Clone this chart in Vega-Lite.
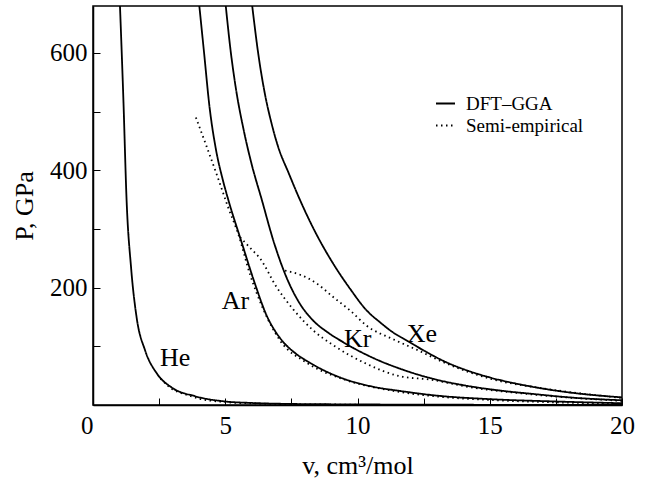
{
  "$schema": "https://vega.github.io/schema/vega-lite/v6.json",
  "width": 529,
  "height": 399,
  "autosize": "none",
  "padding": {"left": 93, "top": 6, "right": 27, "bottom": 74},
  "background": "white",
  "config": {
    "view": {"stroke": "black", "strokeWidth": 1.5},
    "font": "Liberation Serif",
    "axis": {
      "domainColor": "black", "domainWidth": 1.5, "tickColor": "black", "tickWidth": 1,
      "labelColor": "black", "titleColor": "black", "labelFont": "Liberation Serif",
      "titleFont": "Liberation Serif", "labelFontSize": 25, "titleFontSize": 26,
      "titleFontWeight": "normal", "grid": false, "tickSize": -7
    },
    "legend": {"labelFont": "Liberation Serif", "labelFontSize": 19, "labelColor": "black"}
  },
  "datasets": {
    "curves": [
      {"gas": "He", "method": "DFT–GGA", "v": 1.02, "P": 680},
      {"gas": "He", "method": "DFT–GGA", "v": 1.15, "P": 519},
      {"gas": "He", "method": "DFT–GGA", "v": 1.27, "P": 349},
      {"gas": "He", "method": "DFT–GGA", "v": 1.44, "P": 234},
      {"gas": "He", "method": "DFT–GGA", "v": 1.65, "P": 149},
      {"gas": "He", "method": "DFT–GGA", "v": 1.97, "P": 93},
      {"gas": "He", "method": "DFT–GGA", "v": 2.41, "P": 54},
      {"gas": "He", "method": "DFT–GGA", "v": 2.97, "P": 30},
      {"gas": "He", "method": "DFT–GGA", "v": 3.86, "P": 15},
      {"gas": "He", "method": "DFT–GGA", "v": 5.0, "P": 6},
      {"gas": "He", "method": "DFT–GGA", "v": 6.0, "P": 3.5},
      {"gas": "He", "method": "DFT–GGA", "v": 7.5, "P": 1.8},
      {"gas": "He", "method": "DFT–GGA", "v": 10, "P": 1.0},
      {"gas": "He", "method": "DFT–GGA", "v": 13, "P": 0.5},
      {"gas": "He", "method": "DFT–GGA", "v": 16, "P": 0.3},
      {"gas": "He", "method": "DFT–GGA", "v": 20, "P": 0.1},

      {"gas": "Ar", "method": "DFT–GGA", "v": 4.02, "P": 680},
      {"gas": "Ar", "method": "DFT–GGA", "v": 4.2, "P": 600},
      {"gas": "Ar", "method": "DFT–GGA", "v": 4.4, "P": 510},
      {"gas": "Ar", "method": "DFT–GGA", "v": 4.65, "P": 435},
      {"gas": "Ar", "method": "DFT–GGA", "v": 4.9, "P": 385},
      {"gas": "Ar", "method": "DFT–GGA", "v": 5.12, "P": 349},
      {"gas": "Ar", "method": "DFT–GGA", "v": 5.6, "P": 280},
      {"gas": "Ar", "method": "DFT–GGA", "v": 6.12, "P": 207},
      {"gas": "Ar", "method": "DFT–GGA", "v": 6.57, "P": 152},
      {"gas": "Ar", "method": "DFT–GGA", "v": 6.9, "P": 125},
      {"gas": "Ar", "method": "DFT–GGA", "v": 7.2, "P": 107},
      {"gas": "Ar", "method": "DFT–GGA", "v": 7.6, "P": 90},
      {"gas": "Ar", "method": "DFT–GGA", "v": 8.2, "P": 72},
      {"gas": "Ar", "method": "DFT–GGA", "v": 9.34, "P": 47},
      {"gas": "Ar", "method": "DFT–GGA", "v": 10.6, "P": 31},
      {"gas": "Ar", "method": "DFT–GGA", "v": 11.6, "P": 24},
      {"gas": "Ar", "method": "DFT–GGA", "v": 13, "P": 16},
      {"gas": "Ar", "method": "DFT–GGA", "v": 15, "P": 10},
      {"gas": "Ar", "method": "DFT–GGA", "v": 17.5, "P": 6},
      {"gas": "Ar", "method": "DFT–GGA", "v": 20, "P": 3},

      {"gas": "Kr", "method": "DFT–GGA", "v": 5.02, "P": 680},
      {"gas": "Kr", "method": "DFT–GGA", "v": 5.2, "P": 605},
      {"gas": "Kr", "method": "DFT–GGA", "v": 5.4, "P": 540},
      {"gas": "Kr", "method": "DFT–GGA", "v": 5.7, "P": 468},
      {"gas": "Kr", "method": "DFT–GGA", "v": 6.0, "P": 410},
      {"gas": "Kr", "method": "DFT–GGA", "v": 6.38, "P": 350},
      {"gas": "Kr", "method": "DFT–GGA", "v": 6.82, "P": 280},
      {"gas": "Kr", "method": "DFT–GGA", "v": 7.32, "P": 217},
      {"gas": "Kr", "method": "DFT–GGA", "v": 7.83, "P": 172},
      {"gas": "Kr", "method": "DFT–GGA", "v": 8.3, "P": 145},
      {"gas": "Kr", "method": "DFT–GGA", "v": 8.9, "P": 123},
      {"gas": "Kr", "method": "DFT–GGA", "v": 9.46, "P": 107},
      {"gas": "Kr", "method": "DFT–GGA", "v": 10.6, "P": 80},
      {"gas": "Kr", "method": "DFT–GGA", "v": 11.6, "P": 62},
      {"gas": "Kr", "method": "DFT–GGA", "v": 13, "P": 43},
      {"gas": "Kr", "method": "DFT–GGA", "v": 14.1, "P": 33},
      {"gas": "Kr", "method": "DFT–GGA", "v": 15.5, "P": 24},
      {"gas": "Kr", "method": "DFT–GGA", "v": 16.6, "P": 19},
      {"gas": "Kr", "method": "DFT–GGA", "v": 18, "P": 13},
      {"gas": "Kr", "method": "DFT–GGA", "v": 20, "P": 8},

      {"gas": "Xe", "method": "DFT–GGA", "v": 6.02, "P": 680},
      {"gas": "Xe", "method": "DFT–GGA", "v": 6.25, "P": 598},
      {"gas": "Xe", "method": "DFT–GGA", "v": 6.5, "P": 530},
      {"gas": "Xe", "method": "DFT–GGA", "v": 6.75, "P": 480},
      {"gas": "Xe", "method": "DFT–GGA", "v": 7.0, "P": 440},
      {"gas": "Xe", "method": "DFT–GGA", "v": 7.4, "P": 395},
      {"gas": "Xe", "method": "DFT–GGA", "v": 7.83, "P": 349},
      {"gas": "Xe", "method": "DFT–GGA", "v": 8.4, "P": 295},
      {"gas": "Xe", "method": "DFT–GGA", "v": 9.08, "P": 241},
      {"gas": "Xe", "method": "DFT–GGA", "v": 9.72, "P": 198},
      {"gas": "Xe", "method": "DFT–GGA", "v": 10.35, "P": 161},
      {"gas": "Xe", "method": "DFT–GGA", "v": 10.85, "P": 141},
      {"gas": "Xe", "method": "DFT–GGA", "v": 11.4, "P": 122},
      {"gas": "Xe", "method": "DFT–GGA", "v": 11.86, "P": 110},
      {"gas": "Xe", "method": "DFT–GGA", "v": 12.5, "P": 93},
      {"gas": "Xe", "method": "DFT–GGA", "v": 13.4, "P": 72},
      {"gas": "Xe", "method": "DFT–GGA", "v": 14.2, "P": 58},
      {"gas": "Xe", "method": "DFT–GGA", "v": 15, "P": 47},
      {"gas": "Xe", "method": "DFT–GGA", "v": 16.5, "P": 32},
      {"gas": "Xe", "method": "DFT–GGA", "v": 17.9, "P": 22},
      {"gas": "Xe", "method": "DFT–GGA", "v": 20, "P": 13},

      {"gas": "He", "method": "Semi-empirical", "v": 2.55, "P": 45},
      {"gas": "He", "method": "Semi-empirical", "v": 2.8, "P": 34},
      {"gas": "He", "method": "Semi-empirical", "v": 3.0, "P": 27},
      {"gas": "He", "method": "Semi-empirical", "v": 3.5, "P": 18},
      {"gas": "He", "method": "Semi-empirical", "v": 4.0, "P": 11},
      {"gas": "He", "method": "Semi-empirical", "v": 5.0, "P": 5},
      {"gas": "He", "method": "Semi-empirical", "v": 6.0, "P": 2.8},
      {"gas": "He", "method": "Semi-empirical", "v": 7.5, "P": 1.4},
      {"gas": "He", "method": "Semi-empirical", "v": 10, "P": 0.7},

      {"gas": "Ar", "method": "Semi-empirical", "v": 3.89, "P": 490},
      {"gas": "Ar", "method": "Semi-empirical", "v": 4.3, "P": 440},
      {"gas": "Ar", "method": "Semi-empirical", "v": 4.7, "P": 390},
      {"gas": "Ar", "method": "Semi-empirical", "v": 5.1, "P": 338},
      {"gas": "Ar", "method": "Semi-empirical", "v": 5.5, "P": 290},
      {"gas": "Ar", "method": "Semi-empirical", "v": 5.94, "P": 222},
      {"gas": "Ar", "method": "Semi-empirical", "v": 6.44, "P": 163},
      {"gas": "Ar", "method": "Semi-empirical", "v": 7.07, "P": 110},
      {"gas": "Ar", "method": "Semi-empirical", "v": 8.08, "P": 72},
      {"gas": "Ar", "method": "Semi-empirical", "v": 9.46, "P": 44},
      {"gas": "Ar", "method": "Semi-empirical", "v": 11.35, "P": 24},
      {"gas": "Ar", "method": "Semi-empirical", "v": 13, "P": 14.5},
      {"gas": "Ar", "method": "Semi-empirical", "v": 15, "P": 8.5},
      {"gas": "Ar", "method": "Semi-empirical", "v": 17.5, "P": 4.5},
      {"gas": "Ar", "method": "Semi-empirical", "v": 20, "P": 2},

      {"gas": "Kr", "method": "Semi-empirical", "v": 5.56, "P": 286},
      {"gas": "Kr", "method": "Semi-empirical", "v": 6.0, "P": 265},
      {"gas": "Kr", "method": "Semi-empirical", "v": 6.31, "P": 250},
      {"gas": "Kr", "method": "Semi-empirical", "v": 6.94, "P": 201},
      {"gas": "Kr", "method": "Semi-empirical", "v": 7.57, "P": 163},
      {"gas": "Kr", "method": "Semi-empirical", "v": 8.33, "P": 127},
      {"gas": "Kr", "method": "Semi-empirical", "v": 9.08, "P": 102},
      {"gas": "Kr", "method": "Semi-empirical", "v": 10.35, "P": 70},
      {"gas": "Kr", "method": "Semi-empirical", "v": 11.6, "P": 49},
      {"gas": "Kr", "method": "Semi-empirical", "v": 12.8, "P": 43},
      {"gas": "Kr", "method": "Semi-empirical", "v": 14.1, "P": 31.5},
      {"gas": "Kr", "method": "Semi-empirical", "v": 16.6, "P": 18},
      {"gas": "Kr", "method": "Semi-empirical", "v": 20, "P": 7},

      {"gas": "Xe", "method": "Semi-empirical", "v": 7.26, "P": 229},
      {"gas": "Xe", "method": "Semi-empirical", "v": 7.83, "P": 222},
      {"gas": "Xe", "method": "Semi-empirical", "v": 8.46, "P": 207},
      {"gas": "Xe", "method": "Semi-empirical", "v": 9.08, "P": 184},
      {"gas": "Xe", "method": "Semi-empirical", "v": 9.72, "P": 161},
      {"gas": "Xe", "method": "Semi-empirical", "v": 10.35, "P": 135},
      {"gas": "Xe", "method": "Semi-empirical", "v": 11.35, "P": 112},
      {"gas": "Xe", "method": "Semi-empirical", "v": 12.2, "P": 95},
      {"gas": "Xe", "method": "Semi-empirical", "v": 13.4, "P": 70},
      {"gas": "Xe", "method": "Semi-empirical", "v": 15, "P": 45},
      {"gas": "Xe", "method": "Semi-empirical", "v": 17.15, "P": 27.5},
      {"gas": "Xe", "method": "Semi-empirical", "v": 20, "P": 12}
    ],
    "labels": [
      {"text": "He", "v": 2.53, "P": 67},
      {"text": "Ar", "v": 4.87, "P": 164},
      {"text": "Kr", "v": 9.49, "P": 98},
      {"text": "Xe", "v": 11.86, "P": 107}
    ]
  },
  "layer": [
    {
      "data": {"name": "curves"},
      "mark": {"type": "line", "clip": true, "color": "black", "strokeWidth": 1.8, "interpolate": "monotone"},
      "encoding": {
        "x": {
          "field": "v", "type": "quantitative",
          "scale": {"domain": [0, 20], "nice": false, "zero": false},
          "axis": {
            "title": "v, cm³/mol",
            "values": [0, 2.5, 5, 7.5, 10, 12.5, 15, 17.5, 20],
            "labelExpr": "datum.value % 5 === 0 ? format(datum.value, 'd') : ''",
            "labelAlign": {"condition": {"test": "datum.value === 0", "value": "right"}, "value": "center"},
            "labelPadding": 15,
            "titleBaseline": "alphabetic",
            "titleY": 68,
            "labelFlush": false
          }
        },
        "y": {
          "field": "P", "type": "quantitative",
          "scale": {"domain": [0, 680], "nice": false},
          "axis": {
            "title": "P, GPa",
            "values": [100, 200, 300, 400, 500, 600],
            "labelExpr": "datum.value % 200 === 0 ? format(datum.value, 'd') : ''",
            "labelPadding": 13,
            "titlePadding": 12
          }
        },
        "detail": {"field": "gas", "type": "nominal"},
        "strokeDash": {
          "field": "method", "type": "nominal",
          "scale": {"domain": ["DFT–GGA", "Semi-empirical"], "range": [[1, 0], [1.5, 3.5]]},
          "legend": {
            "title": null, "orient": "none", "legendX": 342, "legendY": 87,
            "symbolType": "stroke", "symbolSize": 361, "symbolStrokeWidth": 1.8,
            "symbolStrokeColor": "black", "labelOffset": 10, "rowPadding": 1, "padding": 0
          }
        }
      }
    },
    {
      "data": {"name": "labels"},
      "mark": {"type": "text", "align": "left", "baseline": "alphabetic", "font": "Liberation Serif", "fontSize": 26, "color": "black"},
      "encoding": {
        "x": {"field": "v", "type": "quantitative"},
        "y": {"field": "P", "type": "quantitative"},
        "text": {"field": "text"}
      }
    }
  ]
}
